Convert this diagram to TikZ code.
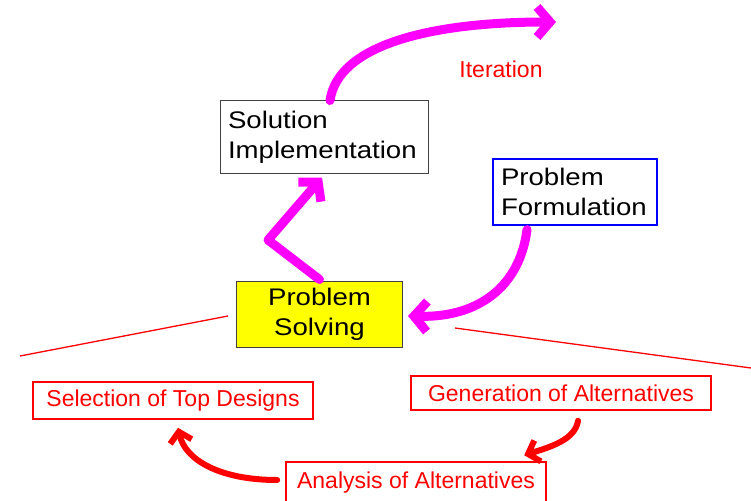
\documentclass[tikz,border=0pt]{standalone}
\usepackage{fontspec}
\setmainfont{Liberation Sans}
\newfontfamily\widefont{Liberation Sans}[FakeStretch=1.15]
\usetikzlibrary{arrows.meta}
\definecolor{mag}{RGB}{255,0,255}
\definecolor{redc}{RGB}{255,0,0}
\definecolor{yel}{RGB}{255,255,0}
\definecolor{bluec}{RGB}{0,0,255}
\tikzset{
  bigbox/.style={line width=1pt, inner xsep=8pt, inner ysep=4pt, font=\widefont\fontsize{24}{30}\selectfont},
  redbox/.style={draw=redc, line width=1.6pt, text=redc, inner sep=2pt, font=\fontsize{23}{26}\selectfont},
  magarrow/.style={draw=mag, line width=9pt, line cap=round, line join=round, -{Straight Barb[length=13pt, width=30pt, line width=9pt]}},
  redarrow/.style={draw=redc, line width=6pt, line cap=round, -{Straight Barb[length=10pt, width=22pt, line width=6pt]}},
  redline/.style={draw=redc, line width=1.3pt}
}
\begin{document}
\begin{tikzpicture}[x=1pt,y=1pt]
\useasboundingbox (0,0) rectangle (751,-500);
\fill[white] (0,0) rectangle (751,-500);
% nodes
\node[bigbox, draw=black!75, minimum width=208, minimum height=72, text width=192, align=left] (sol) at (324,-137) {Solution\\Implementation};
\node[bigbox, draw=bluec, line width=1.3pt, minimum width=164, minimum height=66, text width=148, align=left] (form) at (575,-192) {Problem\\Formulation};
\node[bigbox, draw=black!75, fill=yel, minimum width=165, minimum height=66, text width=150, align=center] (solv) at (319.5,-314) {Problem\\Solving};
\node[text=redc, font=\fontsize{23}{26}\selectfont] (iter) at (501,-69) {Iteration};
\node[redbox, minimum width=280, minimum height=37] (sel) at (173,-400.5) {Selection of Top Designs};
\node[redbox, minimum width=300, minimum height=34] (gen) at (561,-393) {Generation of Alternatives};
\node[redbox, minimum width=260, minimum height=42] (ana) at (416,-483) {Analysis of Alternatives};
\coordinate (itEnd) at (556,-22);
\coordinate (bend) at (268,-240);
% red lines
\draw[redline] (228,-316) -- (20,-356);
\draw[redline] (455,-328) -- (751,-368);
% magenta arrows
\draw[magarrow] ([xshift=6pt]sol.north) .. controls (338,-45) and (430,-22) .. (itEnd);
\draw[magarrow] ([yshift=1pt]solv.north) -- (bend) -- ([xshift=-2pt,yshift=-4pt]sol.south);
\draw[magarrow] ([xshift=-48pt,yshift=-4pt]form.south) .. controls (520,-285) and (480,-318) .. ([xshift=5pt,yshift=-2pt]solv.east);
% red arrows
\draw[redarrow] ([xshift=17pt,yshift=-10pt]gen.south) .. controls (575,-440) and (550,-447) .. ([xshift=239pt,yshift=6pt]ana.north west);
\draw[redarrow] ([xshift=-8pt,yshift=3pt]ana.west) .. controls (220,-480) and (185,-460) .. ([xshift=5pt,yshift=-8pt]sel.south);
\end{tikzpicture}
\end{document}
